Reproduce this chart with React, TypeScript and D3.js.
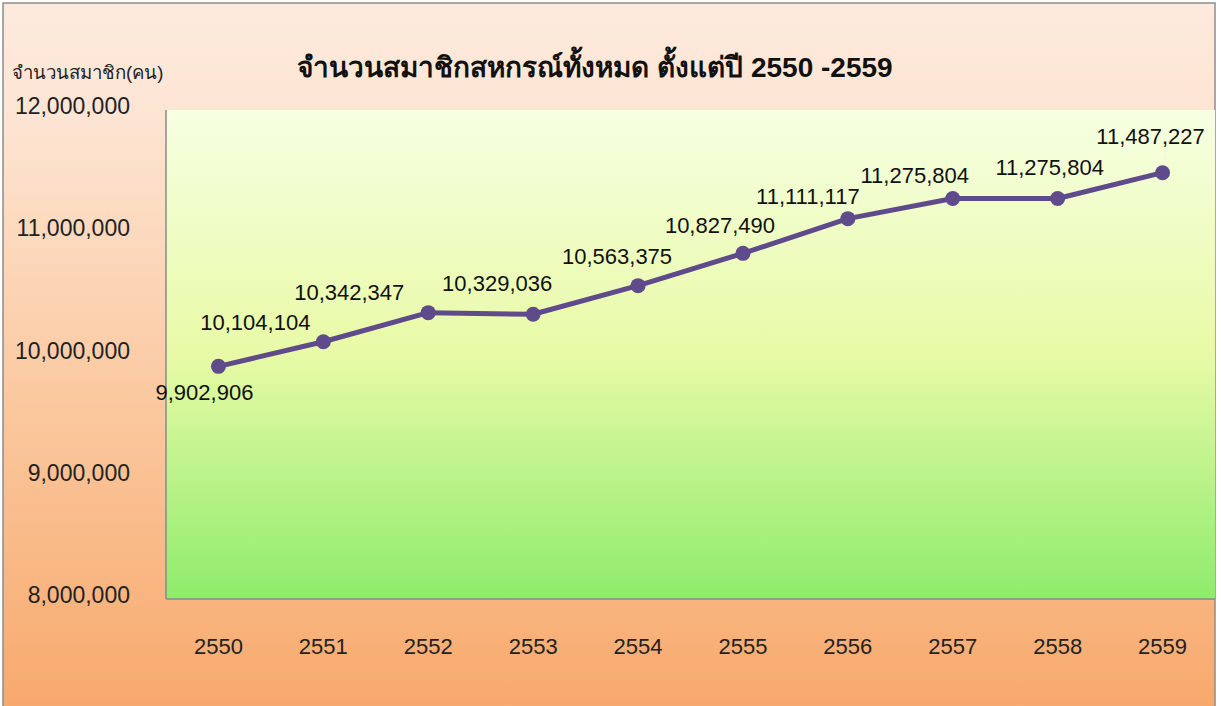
import React from "react";
import * as d3 from "d3";

const years = ["2550", "2551", "2552", "2553", "2554", "2555", "2556", "2557", "2558", "2559"];
const members = [9902906, 10104104, 10342347, 10329036, 10563375, 10827490, 11111117, 11275804, 11275804, 11487227];
const yTicks = [8000000, 9000000, 10000000, 11000000, 12000000];

// label placement relative to each point (dx, dy)
const labelOffsets = [
    [-14, 26], [-68, -19], [-79, -20], [-36, -31], [-21, -29],
    [-23, -28], [-40, -22], [-38, -23], [-8, -31], [-12, -36],
];

const W = 1221;
const H = 706;
const plot = { left: 166, right: 1215, top: 110, bottom: 599 };
const font = "'Liberation Sans', Arial, sans-serif";
const fmt = d3.format(",");

export default function App()
{
    const x = d3.scaleBand<string>().domain(years).range([plot.left, plot.right]);
    const y = d3.scaleLinear().domain([8000000, 12000000]).range([plot.bottom, plot.top]);
    const cx = (d: string) => (x(d) as number) + x.bandwidth() / 2;

    const pts = years.map((yr, i) => ({ yr, v: members[i] }));
    const line = d3.line<{ yr: string; v: number }>()
        .x((d) => cx(d.yr))
        .y((d) => y(d.v));

    return (
        <div style={{ position: "absolute", left: 0, top: 0 }}>
            <svg width={W} height={H} style={{ display: "block" }}>
                <defs>
                    <linearGradient id="outerBg" x1="0" y1="0" x2="0" y2="1">
                        <stop offset="0" stopColor="#fdeadc" />
                        <stop offset="0.15" stopColor="#fde5d4" />
                        <stop offset="0.55" stopColor="#fbc9a0" />
                        <stop offset="1" stopColor="#f7a86b" />
                    </linearGradient>
                    <linearGradient id="plotBg" x1="0" y1="0" x2="0" y2="1">
                        <stop offset="0" stopColor="#f6ffe2" />
                        <stop offset="0.5" stopColor="#e8faa6" />
                        <stop offset="1" stopColor="#8eec6c" />
                    </linearGradient>
                </defs>
                <rect x={3} y={3} width={1212} height={H + 10} fill="url(#outerBg)" stroke="#8c8c8c" strokeWidth={1.5} />
                <rect x={plot.left} y={plot.top} width={plot.right - plot.left} height={plot.bottom - plot.top} fill="url(#plotBg)" />
                <line x1={plot.left} x2={plot.left} y1={plot.top} y2={plot.bottom} stroke="#8a8a8a" strokeWidth={1.5} />
                <line x1={plot.left} x2={plot.right} y1={plot.bottom} y2={plot.bottom} stroke="#8a8a8a" strokeWidth={1.5} />

                <text x={595} y={67} textAnchor="middle" dominantBaseline="central" fontFamily={font} fontWeight="bold" fontSize={28} fill="#111">
                    จำนวนสมาชิกสหกรณ์ทั้งหมด ตั้งแต่ปี 2550 -2559
                </text>
                <text x={12} y={72} dominantBaseline="central" fontFamily={font} fontSize={18.6} fill="#222">
                    จำนวนสมาชิก(คน)
                </text>

                {yTicks.map((t) => (
                    <text key={t} x={130} y={y(t) - 4} textAnchor="end" dominantBaseline="central" fontFamily={font} fontSize={23} fill="#222">
                        {fmt(t)}
                    </text>
                ))}
                {years.map((yr) => (
                    <text key={yr} x={cx(yr)} y={646} textAnchor="middle" dominantBaseline="central" fontFamily={font} fontSize={22} fill="#222">
                        {yr}
                    </text>
                ))}

                <path d={line(pts) || ""} fill="none" stroke="#5f4b8b" strokeWidth={5} strokeLinejoin="round" />
                {pts.map((d) => (
                    <circle key={d.yr} cx={cx(d.yr)} cy={y(d.v)} r={7.5} fill="#5f4b8b" />
                ))}
                {pts.map((d, i) => (
                    <text key={"l" + d.yr} x={cx(d.yr) + labelOffsets[i][0]} y={y(d.v) + labelOffsets[i][1]} textAnchor="middle" dominantBaseline="central" fontFamily={font} fontSize={22} fill="#111">
                        {fmt(d.v)}
                    </text>
                ))}
            </svg>
        </div>
    );
}
